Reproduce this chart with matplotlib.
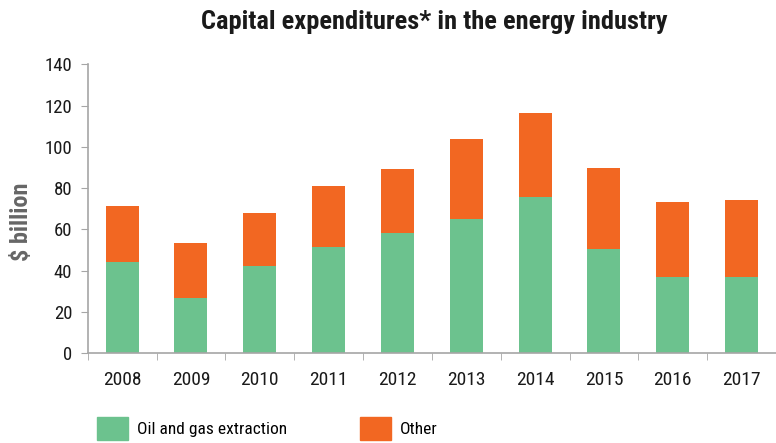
import numpy as np
import matplotlib.pyplot as plt
from matplotlib.patches import Patch

years = ['2008', '2009', '2010', '2011', '2012', '2013', '2014', '2015', '2016', '2017']
oil_gas = [44.4, 26.9, 42.3, 51.5, 58.3, 65.1, 75.7, 50.5, 37.0, 37.0]
other = [27.0, 26.5, 25.7, 29.5, 31.0, 38.7, 40.7, 39.3, 36.3, 37.3]

green = '#6CC28E'
orange = '#F26722'
grey = '#A6A6A6'

plt.rcParams['font.family'] = ['Roboto Condensed', 'DejaVu Sans']

fig = plt.figure(figsize=(7.76, 4.43), dpi=100)
ax = fig.add_axes([0.113, 0.2025, 0.887, 0.6525])

x = np.arange(len(years))
ax.bar(x, oil_gas, width=0.48, color=green, label='Oil and gas extraction')
ax.bar(x, other, width=0.48, bottom=oil_gas, color=orange, label='Other')

ax.set_xlim(-0.5, 9.44)
ax.set_ylim(0, 140)
ax.set_yticks(np.arange(0, 141, 20))
ax.set_xticks(x)
ax.set_xticklabels(years)
ax.set_xticks(np.arange(-0.5, 10, 1), minor=True)
ax.tick_params(axis='x', which='major', length=0, labelsize=14, pad=13, colors='#1a1a1a')
ax.tick_params(axis='x', which='minor', length=5, color=grey, direction='out')
ax.tick_params(axis='y', length=5, color=grey, labelsize=13.5, labelcolor='#1a1a1a', pad=6)

for s in ['top', 'right']:
    ax.spines[s].set_visible(False)
for s in ['left', 'bottom']:
    ax.spines[s].set_color(grey)
    ax.spines[s].set_linewidth(1.2)

# y label placed in figure coords
fig.text(0.028, 0.50, '$ billion', rotation=90, ha='center', va='center',
         fontsize=17.5, fontweight='bold', color='#666666')

fig.text(0.559, 0.95, 'Capital expenditures* in the energy industry',
         ha='center', va='center', fontsize=19, fontweight='bold', color='#1a1a1a')

handles = [Patch(color=green, label='Oil and gas extraction'), Patch(color=orange, label='Other')]
fig.legend(handles=handles, loc='lower left', bbox_to_anchor=(0.114, -0.012), ncol=2,
           frameon=False, fontsize=12.5, handlelength=1.8, handleheight=1.65,
           handletextpad=0.5, columnspacing=4.2, borderpad=0)

fig.savefig('out.png', dpi=100)
